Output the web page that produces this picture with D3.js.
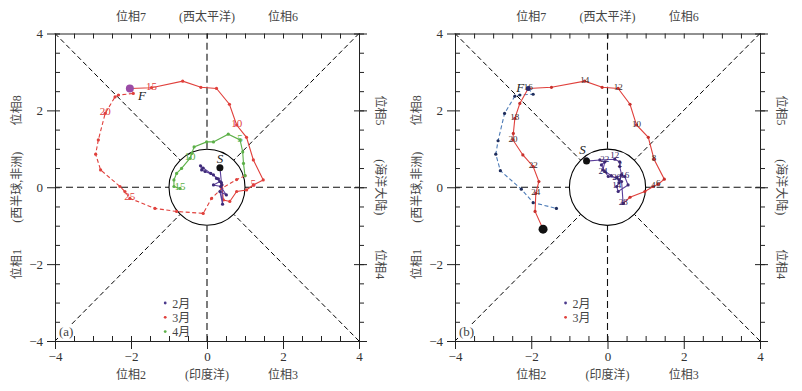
<!DOCTYPE html>
<html>
<head>
<meta charset="utf-8">
<script src="https://cdn.jsdelivr.net/npm/d3@7"></script>
<style>
  body { margin: 0; background: #fff; }
  svg { display: block; }
</style>
</head>
<body>
<script>
/***** Data *****/
var majorTicks = [-4, -2, 0, 2, 4];
var minorTicks = d3.range(-4, 4.01, 0.5);

var topLabels    = [[-2, "位相7"], [0, "(西太平洋)"], [2, "位相6"]];
var bottomLabels = [[-2, "位相2"], [0, "(印度洋)"], [2, "位相3"]];
var leftLabels   = [[2, "位相8"], [0, "(西半球,非洲)"], [-2, "位相1"]];
var rightLabels  = [[2, "位相5"], [0, "(海洋大陆)"], [-2, "位相4"]];

// panel (a)
var febA = [[0.34,0.51],[0.38,0.12],[0.41,-0.44],[0.34,-0.11],[0.51,-0.2],[0.36,0.02],[0.17,0.06],
  [0.34,0.15],[0.25,0.23],[0.17,0.32],[-0.05,0.41],[-0.14,0.45],[-0.17,0.56],[-0.1,0.5],
  [0.1,0.36],[0.3,0.22],[0.39,0.06]];
var marA = [[0.39,0.06],[0.43,-0.33],[0.6,-0.37],[0.78,-0.11],[1.04,-0.07],[1.22,0.06],[1.48,0.19],
  [1.22,0.71],[1.04,1.3],[0.78,1.62],[0.59,2.16],[0.25,2.57],[-0.16,2.6],[-0.64,2.76],[-1.46,2.59],
  [-2.03,2.57]];
var marALabels = [[5, "5"], [9, "10"], [14, "15"]];
var marAfter = [[-2.03,2.57],[-1.94,2.44],[-2.33,2.4],[-2.42,2.35],[-2.68,1.92],[-2.86,1.23],
  [-2.93,0.86],[-2.8,0.45],[-2.29,0.02],[-2.16,-0.11],[-2.03,-0.29],[-1.37,-0.55],[-0.8,-0.63],
  [-0.1,-0.68],[0.12,-0.29],[0.39,-0.03],[0.78,0.2],[1.0,0.3]];
var marAfterLabels = [[4, "20"], [10, "25"]];
var aprA = [[1.0,0.3],[0.96,0.62],[0.94,0.92],[0.87,1.23],[0.56,1.38],[0.17,1.18],[-0.01,1.18],
  [-0.34,1.05],[-0.4,0.88],[-0.45,0.75],[-0.67,0.49],[-0.8,0.36],[-0.87,0.19],[-0.87,0.02],
  [-0.71,-0.03]];
var aprALabels = [[3, "5"], [9, "10"], [14, "15"]];

// panel (b)
var febB = [[-0.55,0.68],[-0.2,0.71],[0.19,0.73],[0.32,0.66],[0.32,0.54],[0.37,0.32],[0.3,0.12],
  [0.24,0.02],[0.28,-0.11],[0.54,0.06],[0.45,0.28],[0.37,0.32],[0.24,0.25],[0.02,0.28],
  [-0.07,0.41],[-0.16,0.58],[-0.07,0.66],[-0.12,0.45],[0.1,0.3],[0.3,0.2],[0.37,0.15],[0.41,-0.42]];
var febBLabels = [[0, "0"], [2, "12"], [3, "2"], [7, "14"], [10, "16"], [12, "20"], [16, "22"], [17, "24"], [21, "28"]];
var marB = [[0.41,-0.42],[0.59,-0.26],[0.98,-0.11],[1.2,0.02],[1.33,0.08],[1.49,0.21],[1.22,0.73],
  [1.07,1.3],[0.76,1.62],[0.59,2.16],[0.28,2.57],[-0.14,2.6],[-0.6,2.76],[-1.47,2.6],[-2.08,2.57],
  [-2.3,2.18],[-2.43,1.79],[-2.47,1.4],[-2.48,1.23],[-2.22,0.84],[-1.95,0.54],[-1.8,0.15],
  [-1.88,-0.16],[-1.9,-0.63],[-1.69,-1.09]];
var marBLabels = [[3, "4"], [4, "6"], [6, "8"], [8, "10"], [10, "12"], [12, "14"], [14, "16"],
  [16, "18"], [18, "20"], [20, "22"], [22, "24"]];
var altB = [[-2.08,2.57],[-1.95,2.42],[-2.3,2.4],[-2.43,2.37],[-2.7,1.92],[-2.87,1.21],[-2.93,0.86],
  [-2.81,0.43],[-2.26,-0.05],[-1.95,-0.4],[-1.34,-0.55]];

var legendA = [["2月", "#4b3a8c"], ["3月", "#e0403c"], ["4月", "#5cb048"]];
var legendB = [["2月", "#4b3a8c"], ["3月", "#e0403c"]];

/***** Setup *****/
var font = "'Liberation Serif','Noto Sans CJK SC',serif";
var svg = d3.select("body").append("svg").attr("width", 802).attr("height", 391);

// small nudges so crowded day numbers inside the circle don't sit on top of each other
var nudge = { "12": -3, "2": 3, "22": -2, "24": 2 };

function drawPanel(left, right, cfg) {
  var x = d3.scaleLinear().domain([-4, 4]).range([left, right]);
  var y = d3.scaleLinear().domain([-4, 4]).range([341, 33.5]);
  var g = svg.append("g");
  var line = d3.line().x(d => x(d[0])).y(d => y(d[1]));
  var c45 = Math.SQRT1_2;

  // phase dividers
  var cross = [[[-4,0],[-1,0]], [[1,0],[4,0]], [[0,-4],[0,-1]], [[0,1],[0,4]]];
  g.selectAll(".cross").data(cross).enter().append("path")
    .attr("d", line).attr("fill", "none").attr("stroke", "#111")
    .attr("stroke-width", 1.1).attr("stroke-dasharray", "7,4");
  var diag = [[-4,-4],[4,-4],[4,4],[-4,4]].map(d => [d, [Math.sign(d[0]) * c45, Math.sign(d[1]) * c45]]);
  g.selectAll(".diag").data(diag).enter().append("path")
    .attr("d", line).attr("fill", "none").attr("stroke", "#000")
    .attr("stroke-width", 1).attr("stroke-dasharray", "5,3");
  g.append("circle").attr("cx", x(0)).attr("cy", y(0)).attr("r", x(1) - x(0))
    .attr("fill", "none").attr("stroke", "#000").attr("stroke-width", 1.1);

  // tracks
  cfg.series.forEach(function (s) {
    g.append("path").datum(s.pts).attr("d", line).attr("fill", "none")
      .attr("stroke", s.color).attr("stroke-width", 1.1)
      .attr("stroke-dasharray", s.dash || null);
    g.selectAll(null).data(s.pts).enter().append("circle")
      .attr("cx", d => x(d[0])).attr("cy", d => y(d[1])).attr("r", 1.6)
      .attr("fill", s.dot || s.color);
  });
  cfg.series.forEach(function (s) {
    (s.labels || []).forEach(function (l) {
      var p = s.pts[l[0]];
      var dy = s.crowded ? (nudge[l[1]] || 0) : 0;
      g.append("text").attr("x", x(p[0])).attr("y", y(p[1]) + 2 + dy)
        .attr("text-anchor", "middle")
        .style("font-family", font).style("font-size", cfg.labelSize + "px")
        .attr("fill", s.labelColor || s.color).text(l[1]);
    });
  });

  // start / end markers
  cfg.marks.forEach(function (m) {
    g.append("circle").attr("cx", x(m.p[0])).attr("cy", y(m.p[1])).attr("r", m.r).attr("fill", m.fill);
    if (m.text) {
      g.append("text").attr("x", x(m.p[0]) + m.dx).attr("y", y(m.p[1]) + m.dy)
        .attr("text-anchor", "middle").style("font-family", font).style("font-style", "italic")
        .style("font-size", "13px").attr("fill", "#222").text(m.text);
    }
  });

  // axes
  function style(sel) {
    sel.selectAll("path, line").attr("stroke", "#222");
    sel.selectAll("text").style("font-family", font).style("font-size", "13px").attr("fill", "#333");
  }
  g.append("g").attr("transform", "translate(0," + y(-4) + ")")
    .call(d3.axisBottom(x).tickValues(minorTicks).tickSize(-5).tickSizeOuter(0).tickFormat("")).call(style);
  g.append("g").attr("transform", "translate(0," + y(-4) + ")")
    .call(d3.axisBottom(x).tickValues(majorTicks).tickSize(8).tickSizeOuter(0).tickPadding(3)).call(style);
  g.append("g").attr("transform", "translate(0," + y(4) + ")")
    .call(d3.axisTop(x).tickValues(minorTicks).tickSize(-5).tickSizeOuter(0).tickFormat("")).call(style);
  g.append("g").attr("transform", "translate(" + x(-4) + ",0)")
    .call(d3.axisLeft(y).tickValues(minorTicks).tickSize(-5).tickSizeOuter(0).tickFormat("")).call(style);
  g.append("g").attr("transform", "translate(" + x(-4) + ",0)")
    .call(d3.axisLeft(y).tickValues(majorTicks).tickSize(8).tickSizeOuter(0).tickPadding(4)).call(style);
  g.append("g").attr("transform", "translate(" + x(4) + ",0)")
    .call(d3.axisRight(y).tickValues(minorTicks).tickSize(5).tickSizeOuter(0).tickFormat("")).call(style);
  g.append("g").attr("transform", "translate(" + x(4) + ",0)")
    .call(d3.axisRight(y).tickValues(majorTicks).tickSize(8).tickSizeOuter(0).tickFormat("")).call(style);
  g.append("g").attr("transform", "translate(" + x(4) + ",0)")
    .call(d3.axisLeft(y).tickValues(majorTicks).tickSize(5).tickSizeOuter(0).tickFormat("")).call(style);

  // phase names
  function addText(sel) {
    sel.style("font-family", font).style("font-size", "12px").attr("fill", "#444");
  }
  topLabels.forEach(d => g.append("text").attr("x", x(d[0])).attr("y", 21)
    .attr("text-anchor", "middle").text(d[1]).call(addText));
  bottomLabels.forEach(d => g.append("text").attr("x", x(d[0])).attr("y", 379)
    .attr("text-anchor", "middle").text(d[1]).call(addText));
  leftLabels.forEach(d => g.append("text")
    .attr("transform", "translate(" + (x(-4) - 38) + "," + y(d[0]) + ") rotate(-90)")
    .attr("text-anchor", "middle").attr("dy", "0.35em").text(d[1]).call(addText));
  rightLabels.forEach(d => g.append("text")
    .attr("transform", "translate(" + (x(4) + 21) + "," + y(d[0]) + ") rotate(90)")
    .attr("text-anchor", "middle").attr("dy", "0.35em").text(d[1]).call(addText));

  // legend
  cfg.legend.forEach(function (d, i) {
    var ly = 303 + i * 14.3;
    g.append("circle").attr("cx", x(-1.1)).attr("cy", ly).attr("r", 1.4).attr("fill", d[1]);
    g.append("text").attr("x", x(-1.1) + 7).attr("y", ly + 4.5).text(d[0]).call(addText);
  });
  g.append("rect").attr("x", x(-4) + 3).attr("y", 325).attr("width", 15).attr("height", 14).attr("fill", "#fff");
  g.append("text").attr("x", x(-4) + 4).attr("y", 336).text(cfg.tag).call(addText)
    .style("font-size", "13px");
}

/***** Panels *****/
drawPanel(55, 359, {
  tag: "(a)", labelSize: 11, legend: legendA,
  series: [
    { pts: marAfter, color: "#e0403c", dash: "4,2.5", labels: marAfterLabels },
    { pts: aprA, color: "#5cb048", labels: aprALabels },
    { pts: marA, color: "#e0403c", labels: marALabels },
    { pts: febA, color: "#5b3e9a", dot: "#3e2a78" }
  ],
  marks: [
    { p: febA[0], r: 3.5, fill: "#111", text: "S", dx: 0, dy: -5 },
    { p: marA[marA.length - 1], r: 4, fill: "#9a4ca6", text: "F", dx: 12, dy: 12 }
  ]
});

drawPanel(455, 760, {
  tag: "(b)", labelSize: 9, legend: legendB,
  series: [
    { pts: altB, color: "#4f7db8", dot: "#1f2d5c", dash: "4,2.5" },
    { pts: marB, color: "#e0403c", dot: "#c8302c", labels: marBLabels, labelColor: "#3a2a2a" },
    { pts: febB, color: "#5b3e9a", dot: "#3e2a78", labels: febBLabels, labelColor: "#2e2060", crowded: true }
  ],
  marks: [
    { p: febB[0], r: 3.5, fill: "#111", text: "S", dx: -4, dy: -7 },
    { p: altB[0], r: 2.5, fill: "#2a2a6a", text: "F", dx: -8, dy: 4 },
    { p: marB[marB.length - 1], r: 4.5, fill: "#111" }
  ]
});
</script>
</body>
</html>
